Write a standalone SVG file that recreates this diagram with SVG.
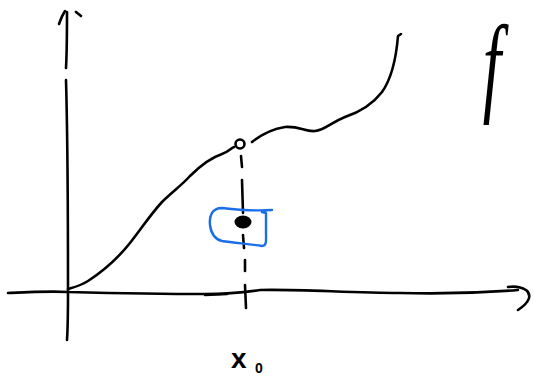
<svg xmlns="http://www.w3.org/2000/svg" width="534" height="377" viewBox="0 0 534 377">
<style>
.ink{fill:none;stroke:#000;stroke-width:2.6;stroke-linecap:round;stroke-linejoin:round}
.blue{fill:none;stroke:#1a6fe8;stroke-width:2.4;stroke-linecap:round;stroke-linejoin:round}
.lbl{font-family:"Liberation Sans",Arial,sans-serif;fill:#000;font-weight:bold}
</style>
<rect width="534" height="377" fill="#fff"/>
<g id="axes">
  <path class="ink" d="M66,68 C67,50 67,30 67,12"/>
  <path class="ink" d="M59,24 C61,18 63,14 65,11"/>
  <path class="ink" d="M76,12 L81,16"/>
  <path class="ink" d="M66,80 C68,150 68,220 68,292 C68,310 68,325 67,340"/>
  <path class="ink" d="M8,293 C30,292 50,291 68,292 C110,293 170,294 205,294 C220,294 240,293 260,290 C300,289 350,293 400,293 C440,294 480,293 518,290"/>
  <path class="ink" d="M205,295 L227,294"/>
  <path class="ink" d="M508,287 C515,286 521,287 526,290 C532,295 530,302 518,310"/>
  <path class="ink" d="M245,285 L246,308"/>
</g>
<g id="curve">
  <path class="ink" d="M68,289 C75,287 80,286 88,281 C105,270 118,258 130,243 C142,228 150,215 162,202 C172,192 182,185 190,176 C200,166 210,158 222,154 C228,152 231,148 234,147"/>
  <circle class="ink" cx="240" cy="144" r="4.5" stroke-width="2.2"/>
  <path class="ink" d="M252,142 C262,134 272,129 285,127 C300,126 305,132 315,131 C325,130 330,123 345,117 C360,112 372,105 382,92 C392,78 396,60 398,36 L401,34"/>
</g>
<g id="limit-dash">
  <path class="ink" d="M241,156 L242,167"/>
  <path class="ink" d="M242,180 L243,213"/>
  <path class="ink" d="M243,235 L244,248"/>
  <path class="ink" d="M245,260 L245,271"/>
</g>
<g id="point">
  <ellipse cx="243" cy="222" rx="8.5" ry="6.5" fill="#000"/>
  <path class="blue" d="M272,210 C258,211 240,210 222,208 C212,208 209,216 210,225 C211,233 214,239 222,241 C235,243 250,244 262,246 C267,246 266,240 266,232 C266,224 266,218 266,213 L262,212"/>
</g>
<g id="labels">
  <text class="lbl" x="231" y="368" font-size="28">x</text>
  <text class="lbl" x="255" y="373" font-size="14">0</text>
  <text x="492" y="102" font-family="'Liberation Serif',serif" font-style="italic" font-size="110" text-anchor="middle" transform="translate(492,0) scale(0.6,1) translate(-492,0)">f</text>
</g>
</svg>
